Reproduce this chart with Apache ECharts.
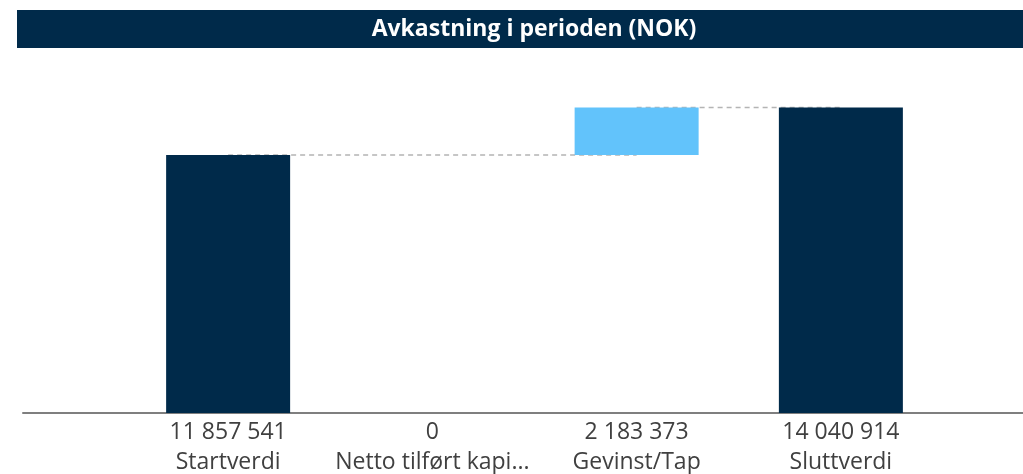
<!DOCTYPE html>
<html>
<head>
<meta charset="utf-8">
<script src="https://cdn.jsdelivr.net/npm/echarts@6/dist/echarts.min.js"></script>
<style>
  html, body { margin: 0; padding: 0; background: #fff; }
  #chart { width: 1023px; height: 474px; }
</style>
</head>
<body>
<div id="chart"></div>
<script>
const categories = ['Startverdi', 'Netto tilført kapi...', 'Gevinst/Tap', 'Sluttverdi'];
const values = [11857541, 0, 2183373, 14040914];
// usynlig base for fossefall
const baseValues = [0, 11857541, 11857541, 0];
const barColors = ['#002a4a', '#62c3fb', '#62c3fb', '#002a4a'];
const startLevel = [11857541, 11857541, 11857541, null];
const endLevel = [null, null, 14040914, 14040914];

function fmt(v) {
  return String(v).replace(/\B(?=(\d{3})+(?!\d))/g, ' ');
}

const myChart = echarts.init(document.getElementById('chart'));

const option = {
  animation: false,
  graphic: [
    {
      type: 'rect',
      left: 17, top: 10,
      shape: { width: 1010, height: 38 },
      style: { fill: '#002a4a' },
      z: 10
    },
    {
      type: 'text',
      x: 534, y: 29,
      style: {
        text: 'Avkastning i perioden (NOK)',
        fill: '#fff',
        font: 'bold 23px "Open Sans"',
        textAlign: 'center',
        textVerticalAlign: 'middle'
      },
      z: 11
    }
  ],
  grid: [
    { left: 126, right: 80, top: 65, bottom: 61, outerBoundsMode: 'none', containLabel: false },
    // bare for aksestreken over hele bredden
    { left: 23, right: 0, top: 65, bottom: 61, outerBoundsMode: 'none', containLabel: false }
  ],
  xAxis: [
    {
      type: 'category',
      gridIndex: 0,
      data: categories,
      axisLine: { show: false },
      axisTick: { show: false },
      axisLabel: {
        interval: 0,
        margin: 4,
        color: '#404040',
        fontSize: 23,
        fontFamily: 'Open Sans',
        lineHeight: 30,
        formatter: function (name, idx) {
          return fmt(values[idx]) + '\n' + name;
        }
      }
    },
    {
      type: 'value',
      gridIndex: 1,
      min: 0, max: 1,
      axisLine: { show: true, onZero: false, lineStyle: { color: '#7f7f7f', width: 2 } },
      axisTick: { show: false },
      axisLabel: { show: false },
      splitLine: { show: false }
    }
  ],
  yAxis: [
    { type: 'value', gridIndex: 0, min: 0, max: 16000000, show: false, splitLine: { show: false } },
    { type: 'value', gridIndex: 1, min: 0, max: 1, show: false, splitLine: { show: false } }
  ],
  series: [
    {
      name: 'base',
      type: 'bar',
      stack: 'wf',
      barWidth: 124,
      itemStyle: { color: 'transparent' },
      data: baseValues,
      z: 3
    },
    {
      name: 'verdi',
      type: 'bar',
      stack: 'wf',
      barWidth: 124,
      data: values.map((v, i) => ({ value: v, itemStyle: { color: barColors[i] } })),
      z: 3
    },
    {
      name: 'nivå1',
      type: 'line',
      data: startLevel,
      symbol: 'none',
      lineStyle: { color: '#b4b4b4', width: 1.5, type: [5, 4] },
      z: 2
    },
    {
      name: 'nivå2',
      type: 'line',
      data: endLevel,
      symbol: 'none',
      lineStyle: { color: '#b4b4b4', width: 1.5, type: [5, 4] },
      z: 2
    }
  ]
};

myChart.setOption(option);
</script>
</body>
</html>
